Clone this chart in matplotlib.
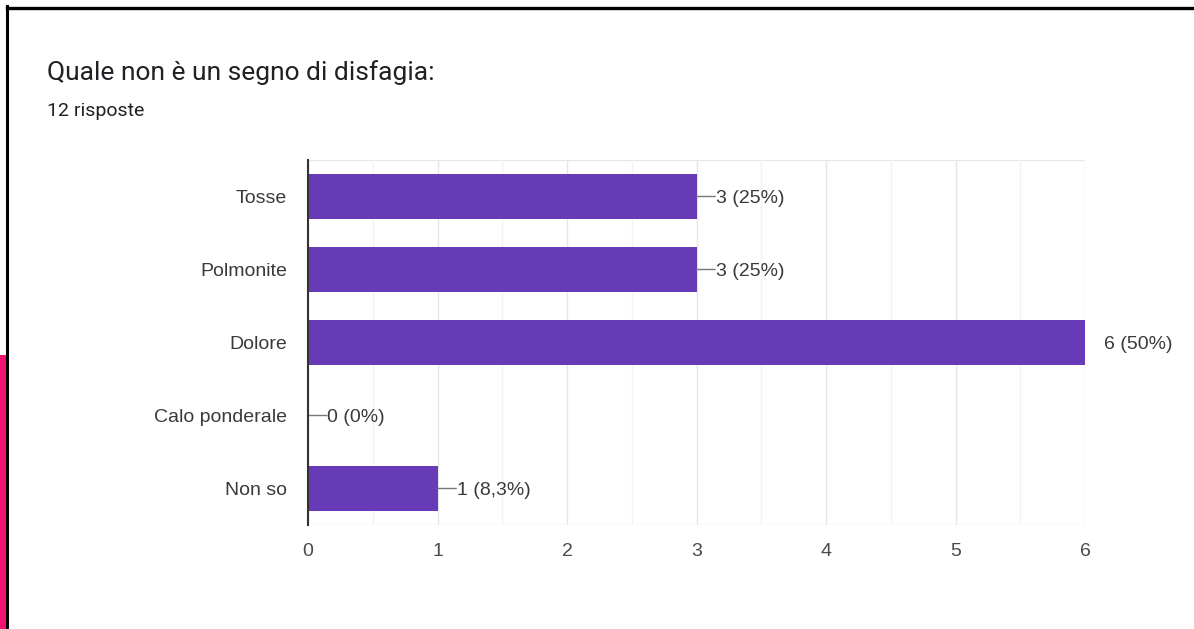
import matplotlib.pyplot as plt
from matplotlib.patches import Rectangle
from matplotlib.lines import Line2D
from matplotlib.ticker import MultipleLocator

plt.rcParams['font.family'] = ['Liberation Sans', 'DejaVu Sans']

# dati
categorie = ['Tosse', 'Polmonite', 'Dolore', 'Calo ponderale', 'Non so']
valori = [3, 3, 6, 0, 1]
etichette = ['3 (25%)', '3 (25%)', '6 (50%)', '0 (0%)', '1 (8,3%)']
titolo = 'Quale non è un segno di disfagia:'
sottotitolo = '12 risposte'

viola = '#673ab7'

fig = plt.figure(figsize=(11.94, 6.29), dpi=100)
fig.patch.set_facecolor('white')

# cornice dello screenshot
fig.patches.append(Rectangle((0, 0), 0.0055, 1 - 355 / 629, transform=fig.transFigure,
                             facecolor='#f0146e', edgecolor='none', zorder=0))
fig.add_artist(Line2D([0.0058, 0.0058], [0, 0.99], transform=fig.transFigure,
                      color='black', linewidth=2.2))
fig.add_artist(Line2D([0.0058, 1.0], [0.9875, 0.9875], transform=fig.transFigure,
                      color='black', linewidth=2.4))

ax = fig.add_axes([308 / 1194, 1 - 525 / 629, 777 / 1194, 365 / 629])
pos = list(range(len(categorie)))
ax.barh(pos, valori, height=0.63, color=viola, zorder=3)
ax.set_ylim(4.5, -0.5)
ax.set_xlim(0, 6)

ax.xaxis.set_major_locator(MultipleLocator(1))
ax.xaxis.set_minor_locator(MultipleLocator(0.5))
ax.grid(axis='x', which='major', color='#e6e6e6', linewidth=1, zorder=0)
ax.grid(axis='x', which='minor', color='#f3f3f3', linewidth=1, zorder=0)
ax.set_yticks(pos)
ax.set_yticklabels(categorie)
ax.tick_params(axis='y', length=0, pad=15, labelsize=14, labelcolor='#3a3a3a')
ax.tick_params(axis='x', which='both', length=0, pad=13, labelsize=14, labelcolor='#4a4a4a')

for s in ['top', 'right', 'bottom']:
    ax.spines[s].set_visible(False)
ax.spines['left'].set_color('#333333')
ax.spines['left'].set_linewidth(1.5)
ax.spines['left'].set_zorder(4)
ax.axhline(-0.5, color='#e6e6e6', linewidth=1, zorder=0)
ax.axhline(4.5, color='#e6e6e6', linewidth=1, zorder=0)

# etichette dei valori con linea guida
for i, (v, lab) in enumerate(zip(valori, etichette)):
    if v != max(valori):
        ax.annotate('', xy=(v, i), xytext=(13.5, 0), textcoords='offset points',
                    arrowprops=dict(arrowstyle='-', color='#777777', lw=1,
                                    shrinkA=0, shrinkB=0),
                    annotation_clip=False)
    ax.annotate(lab, xy=(v, i), xytext=(14, -1.2), textcoords='offset points',
                va='center', ha='left', fontsize=14, color='#3a3a3a',
                annotation_clip=False)

fig.text(47 / 1194, 1 - 73 / 629, titolo, fontsize=19, color='#202124', va='center',
         family=['Roboto', 'DejaVu Sans'])
fig.text(47 / 1194, 1 - 111 / 629, sottotitolo, fontsize=14, color='#202124', va='center',
         family=['Roboto', 'DejaVu Sans'])

fig.savefig('out.png', dpi=100)
